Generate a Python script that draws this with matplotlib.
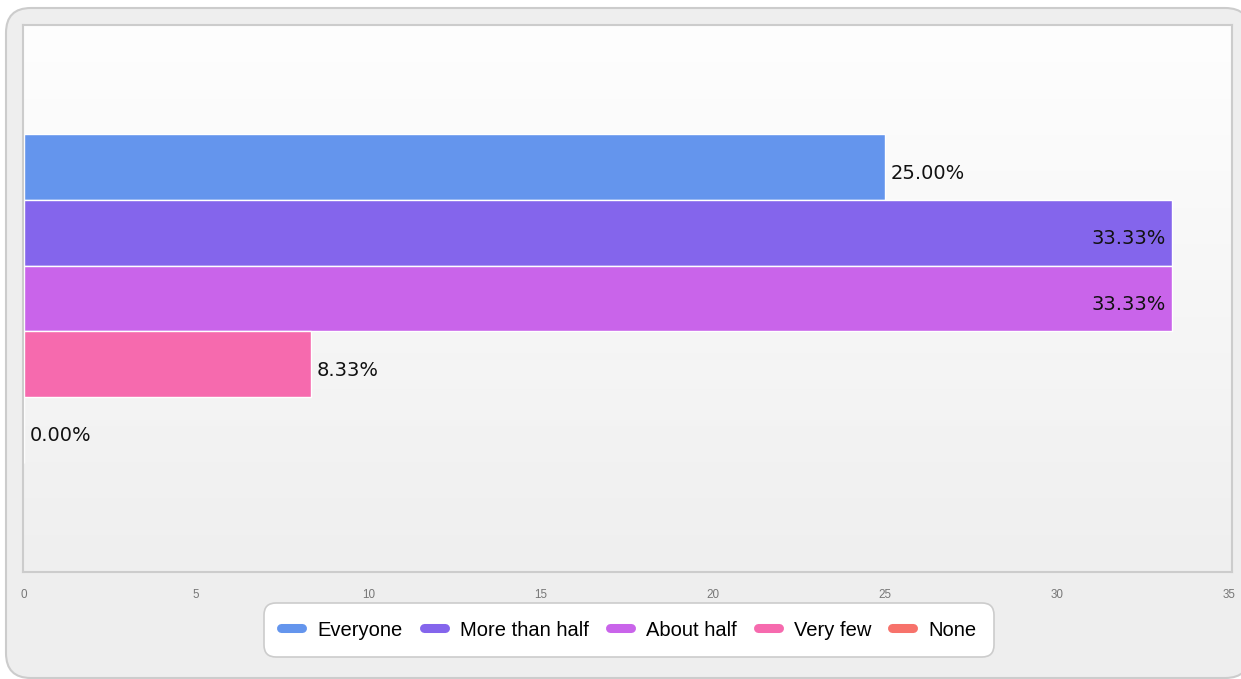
import numpy as np
import matplotlib
matplotlib.use('Agg')
import matplotlib.pyplot as plt
from matplotlib.patches import FancyBboxPatch
from matplotlib.lines import Line2D

# Data
categories = ['Everyone', 'More than half', 'About half', 'Very few', 'None']
values = [25.0, 33.33, 33.33, 8.33, 0.0]
colors = ['#6495ed', '#8465ec', '#c964ea', '#f66aae', '#f7726b']
xticks = [0, 5, 10, 15, 20, 25, 30, 35]

W, H = 1241, 679
fig = plt.figure(figsize=(W / 100, H / 100), dpi=100, facecolor='white')

# outer rounded panel
panel = FancyBboxPatch((6 / W, 1 - 678 / H), (1250 - 6) / W, (678 - 8) / H,
                       boxstyle='round,pad=0,rounding_size=0.02',
                       transform=fig.transFigure, facecolor='#eeeeee',
                       edgecolor='#cccccc', linewidth=1.5, mutation_aspect=W / H,
                       zorder=-10)
fig.patches.append(panel)

# plot area: frame from x=23..1232, y=25..572
left, right, top, bottom = 23, 1232, 25, 572
ax = fig.add_axes([left / W, 1 - bottom / H, (right - left) / W, (bottom - top) / H])
ax.set_facecolor('none')

px_per_unit = (1229 - 24) / 35.0
xlo, xhi = -1 / px_per_unit, (right - 24) / px_per_unit
ax.set_xlim(xlo, xhi)
ax.set_ylim(0.5, -0.5)

# gradient background
grad = np.linspace(0, 1, 256).reshape(-1, 1)
ax.imshow(grad, cmap=matplotlib.colors.LinearSegmentedColormap.from_list(
    'bg', ['#fefefe', '#efefef']), aspect='auto',
    extent=[xlo, xhi, 0.5, -0.5], zorder=0)

n = len(values)
bar_h = 0.6 / n
offsets = (np.arange(n) - (n - 1) / 2) * bar_h
for i, (cat, val, col) in enumerate(zip(categories, values, colors)):
    ax.barh(offsets[i], val, height=bar_h, color=col, edgecolor='white',
            linewidth=1, zorder=2)
    label = f'{val:.2f}%'
    ytxt = offsets[i] + 0.011
    if val > 30:
        ax.annotate(label, (val, ytxt), xytext=(-6, 0), textcoords='offset pixels',
                    ha='right', va='center', fontsize=14, color='#111111', zorder=3)
    else:
        ax.annotate(label, (val, ytxt), xytext=(6, 0), textcoords='offset pixels',
                    ha='left', va='center', fontsize=14, color='#111111', zorder=3)

ax.set_yticks([])
ax.set_xticks(xticks)
ax.set_xticklabels([str(t) for t in xticks], fontsize=8.4, color='#777777',
                   family='Liberation Sans')
ax.tick_params(axis='x', length=0, pad=12.5)
for s in ax.spines.values():
    s.set_color('#cccccc')
    s.set_linewidth(1.5)

handles = [Line2D([0], [0], color=c, lw=6.5, solid_capstyle='round') for c in colors]
leg = fig.legend(handles, categories, loc='center', ncol=n,
                 bbox_to_anchor=(629 / W, 1 - 630 / H), frameon=True,
                 prop={'family': 'Liberation Sans', 'size': 14.5},
                 handlelength=1.05, handletextpad=0.77, columnspacing=1.02,
                 borderpad=0.85, fancybox=True)
frame = leg.get_frame()
frame.set_edgecolor('#cccccc')
frame.set_linewidth(1.2)
frame.set_facecolor('white')
frame.set_alpha(1)
frame.set_boxstyle('round,pad=0,rounding_size=0.6')

fig.savefig('out.png', dpi=100)
